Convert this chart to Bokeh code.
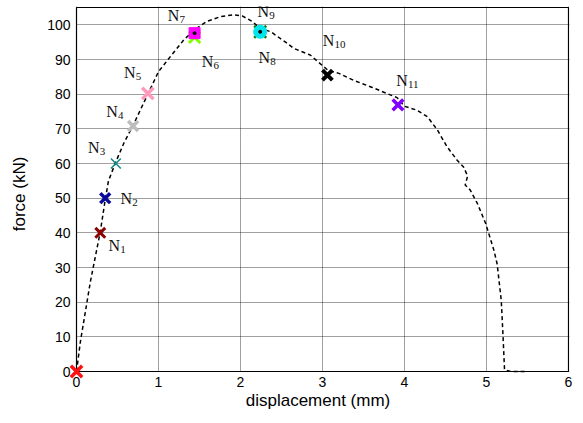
from bokeh.plotting import figure
from bokeh.models import ColumnDataSource, Range1d, FixedTicker, BoxAnnotation
from bokeh.core.properties import value
from bokeh.embed import file_html
from bokeh.resources import INLINE

# ---- data ----
curve_x = [0, 0.05, 0.17, 0.29, 0.35, 0.39, 0.48, 0.58, 0.69, 0.78, 0.87, 1.0, 1.15, 1.31,
           1.44, 1.59, 1.76, 1.91, 2.02, 2.14, 2.24, 2.37, 2.55, 2.65, 2.85, 3.07, 3.2, 3.38,
           3.6, 3.91, 4.0, 4.15, 4.28, 4.40, 4.52, 4.64, 4.72, 4.77, 4.74, 4.80, 4.89, 4.99,
           5.09, 5.13, 5.18, 5.20, 5.22, 5.3, 5.5]
curve_y = [0, 9, 26, 40.3, 49.5, 55, 60.5, 66, 71, 75.5, 80, 86.5, 91, 95.7,
           98.6, 101, 102.4, 102.9, 102.6, 101, 99, 98, 95, 93.2, 91.3, 86.8, 86, 84,
           82, 79, 76.5, 75.4, 73.5, 69.7, 64.8, 61, 59, 56.4, 53.8, 52.4, 48.4, 42.7,
           35, 31, 20.5, 11, 0.5, 0, 0]

node_names = ["N0", "N1", "N2", "N3", "N4", "N5", "N6", "N7", "N8", "N9", "N10", "N11"]
node_x = [0.0, 0.29, 0.35, 0.48, 0.69, 0.87, 1.44, 1.44, 2.24, 2.24, 3.06, 3.92]
node_y = [0.0, 40.0, 50.0, 60.0, 70.8, 80.2, 96.4, 97.6, 98.0, 98.0, 85.5, 76.9]

x_ticks = [0, 1, 2, 3, 4, 5, 6]
y_ticks = [0, 10, 20, 30, 40, 50, 60, 70, 80, 90, 100]
X_MIN, X_MAX, Y_MIN, Y_MAX = 0, 6, 0, 105

# ---- styles (per node) ----
node_marker = ["x", "x", "x", "x", "x", "x", "x", "square", "x", "circle", "x", "x"]
node_color = ["#ff1010", "#8b0000", "#0a0a9a", "#138a8a", "#bdbdbd", "#ff99bb",
              "#80ff00", "#ff00ff", "#0a7a0a", "#00e5ee", "#000000", "#8000ff"]
node_size = [16, 14, 14, 14, 14, 16, 16, 11, 17, 13, 14, 15]
node_lw = [3.5, 3, 3.5, 1.6, 3.5, 3.5, 3, 1, 2.5, 1, 4, 3.5]
# label offsets in screen pixels (x right, y down) for N1..N11
lab_dx = [14, 21, -22, -21, -18, 13, -21, 4, 3, 1, 4]
lab_dy = [13, 0, -16, -15, -21, 24, -18, 26, -20, -35, -24]

# ---- layout: the plotting frame is padded a little beyond the axes box (left/bottom)
# so that the marker at the origin can overhang the axes as in the reference ----
AX_W, AX_H = 492, 364          # pixel size of the axes box
PAD, PAD_END = 10, 1           # pixels
ux = (X_MAX - X_MIN) / AX_W
uy = (Y_MAX - Y_MIN) / AX_H

p = figure(width=583, height=423, output_backend="svg", toolbar_location=None,
           x_range=Range1d(X_MIN - PAD * ux, X_MAX + PAD_END * ux),
           y_range=Range1d(Y_MIN - PAD * uy, Y_MAX + PAD_END * uy),
           min_border_left=76 - PAD, min_border_right=583 - 76 - AX_W - PAD_END,
           min_border_top=7 - PAD_END, min_border_bottom=423 - 7 - AX_H - PAD)
p.background_fill_color = "white"
p.border_fill_color = "white"
p.outline_line_color = None

for ax in (p.xaxis[0], p.yaxis[0]):
    ax.major_label_text_font = "Liberation Sans"
    ax.major_label_text_font_size = "14px"
    ax.major_label_text_color = "black"
    ax.axis_label_text_font = "Liberation Sans"
    ax.axis_label_text_font_size = "17px"
    ax.axis_label_text_font_style = "normal"
    ax.axis_label_text_color = "black"
    ax.major_tick_in = 0
    ax.major_tick_out = 0
    ax.minor_tick_in = 0
    ax.minor_tick_out = 0
    ax.axis_line_color = None

p.xaxis.bounds = (X_MIN, X_MAX)
p.yaxis.bounds = (Y_MIN, Y_MAX)
p.xaxis.major_label_standoff = 5 - PAD
p.yaxis.major_label_standoff = 6 - PAD
p.xaxis.axis_label_standoff = 1
p.yaxis.axis_label_standoff = 15
p.xaxis.ticker = FixedTicker(ticks=x_ticks)
p.yaxis.ticker = FixedTicker(ticks=y_ticks)
p.xaxis.axis_label = "displacement (mm)"
p.yaxis.axis_label = "force (kN)"

p.grid.grid_line_color = "#000000"
p.grid.grid_line_dash = "1 1"
p.grid.grid_line_width = 1
p.grid.grid_line_alpha = 0.75
p.xgrid.ticker = FixedTicker(ticks=x_ticks)
p.ygrid.ticker = FixedTicker(ticks=y_ticks)

# blank out the padding strips outside the axes box (grid lines)
p.add_layout(BoxAnnotation(right=X_MIN, fill_color="white", fill_alpha=1, line_color=None,
                           level="underlay"))
p.add_layout(BoxAnnotation(top=Y_MIN, fill_color="white", fill_alpha=1, line_color=None,
                           level="underlay"))

# axes box
p.quad(left=[X_MIN], right=[X_MAX], bottom=[Y_MIN], top=[Y_MAX], fill_color=None,
       line_color="black", line_width=1.2)

p.line(curve_x, curve_y, line_color="black", line_width=1.5, line_dash="4 3")

src = ColumnDataSource(dict(x=node_x, y=node_y, marker=node_marker,
                            color=node_color, size=node_size, lw=node_lw))
r = p.scatter("x", "y", source=src, marker="marker", size="size", line_color="color",
              fill_color="color", line_width="lw")
r.level = "overlay"
# small black dots at the centres of the square / circle nodes
r2 = p.scatter([node_x[7], node_x[9]], [node_y[7], node_y[9]], size=3, color="black")
r2.level = "overlay"

lab_x = node_x[1:]
lab_y = node_y[1:]
subs = [n[1:] for n in node_names[1:]]
p.text(lab_x, lab_y, text=["N"] * len(lab_x), x_offset=lab_dx, y_offset=lab_dy,
       text_align="center", text_baseline="middle", text_font=value("Liberation Serif"),
       text_font_size="16px", text_color="#111111")
p.text(lab_x, lab_y, text=subs, x_offset=[d + 6 for d in lab_dx], y_offset=[d + 4 for d in lab_dy],
       text_align="left", text_baseline="middle", text_font=value("Liberation Serif"),
       text_font_size="11px", text_color="#111111")

open("out.html", "w").write(file_html(p, INLINE))
